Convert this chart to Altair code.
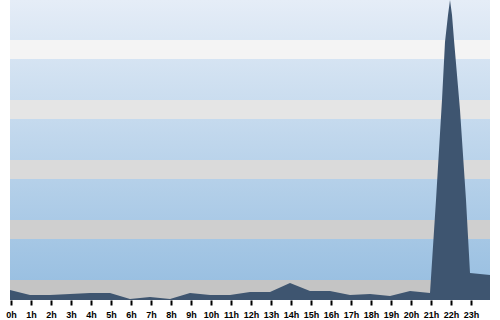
import altair as alt
import pandas as pd

hours = [0, 1, 2, 3, 4, 5, 6, 7, 8, 9, 10, 11, 12, 13, 14, 15, 16, 17, 18, 19, 20,
         21, 21.3, 21.6, 21.75, 21.9, 22, 22.1, 22.2, 22.5, 22.8, 23, 24]
values = [10, 5, 5, 6, 7, 7, 1, 3, 1, 7, 5, 5, 8, 8, 17, 9, 9, 5, 6, 4, 9,
          7, 100, 200, 258, 285, 300, 285, 260, 190, 100, 27, 25]
tick_hours = list(range(24))

band_lo = [0, 61, 121, 181, 241]
band_hi = [20, 80, 140, 200, 260]
band_color = ["#c4c4c4", "#cfcfcf", "#dadada", "#e5e5e5", "#f4f4f4"]

df = pd.DataFrame({"hour": hours, "value": values})
bands = pd.DataFrame({"lo": band_lo, "hi": band_hi, "c": band_color, "x0": 0, "x1": 24})
bg = pd.DataFrame({"lo": [0], "hi": [300], "x0": [0], "x1": [24]})

xscale = alt.Scale(domain=[0, 24], nice=False, zero=False)
yscale = alt.Scale(domain=[0, 300], nice=False)

xaxis = alt.Axis(values=tick_hours, labelExpr="datum.value + 'h'", domain=False, grid=False,
                 tickColor="black", tickWidth=2, tickSize=5, labelPadding=5, tickOffset=1,
                 labelFont="Liberation Sans", labelFontWeight="bold", labelFontSize=9,
                 labelColor="black", labelFlush=False, labelOverlap=False, title=None)

background = alt.Chart(bg).mark_rect(
    color=alt.Gradient(gradient="linear", x1=0, y1=0, x2=0, y2=1,
                       stops=[alt.GradientStop(color="#e5edf7", offset=0),
                              alt.GradientStop(color="#95bde0", offset=1)])
).encode(
    x=alt.X("x0:Q", scale=xscale, axis=xaxis), x2="x1:Q",
    y=alt.Y("lo:Q", scale=yscale, axis=None), y2="hi:Q")

grey = alt.Chart(bands).mark_rect().encode(
    x=alt.X("x0:Q", scale=xscale, axis=xaxis), x2="x1:Q",
    y=alt.Y("lo:Q", scale=yscale, axis=None), y2="hi:Q",
    color=alt.Color("c:N", scale=None))

area = alt.Chart(df).mark_area(color="#3e5570", opacity=1, clip=True).encode(
    x=alt.X("hour:Q", scale=xscale, axis=xaxis),
    y=alt.Y("value:Q", scale=yscale, axis=None))

chart = alt.layer(background, grey, area).properties(
    width=480, height=300,
    padding={"left": 10, "right": 10, "top": 0, "bottom": 20},
    autosize=alt.AutoSizeParams(type="none"),
).configure_view(stroke=None)

chart.save("out.html", embed_options={"renderer": "svg", "actions": False})
